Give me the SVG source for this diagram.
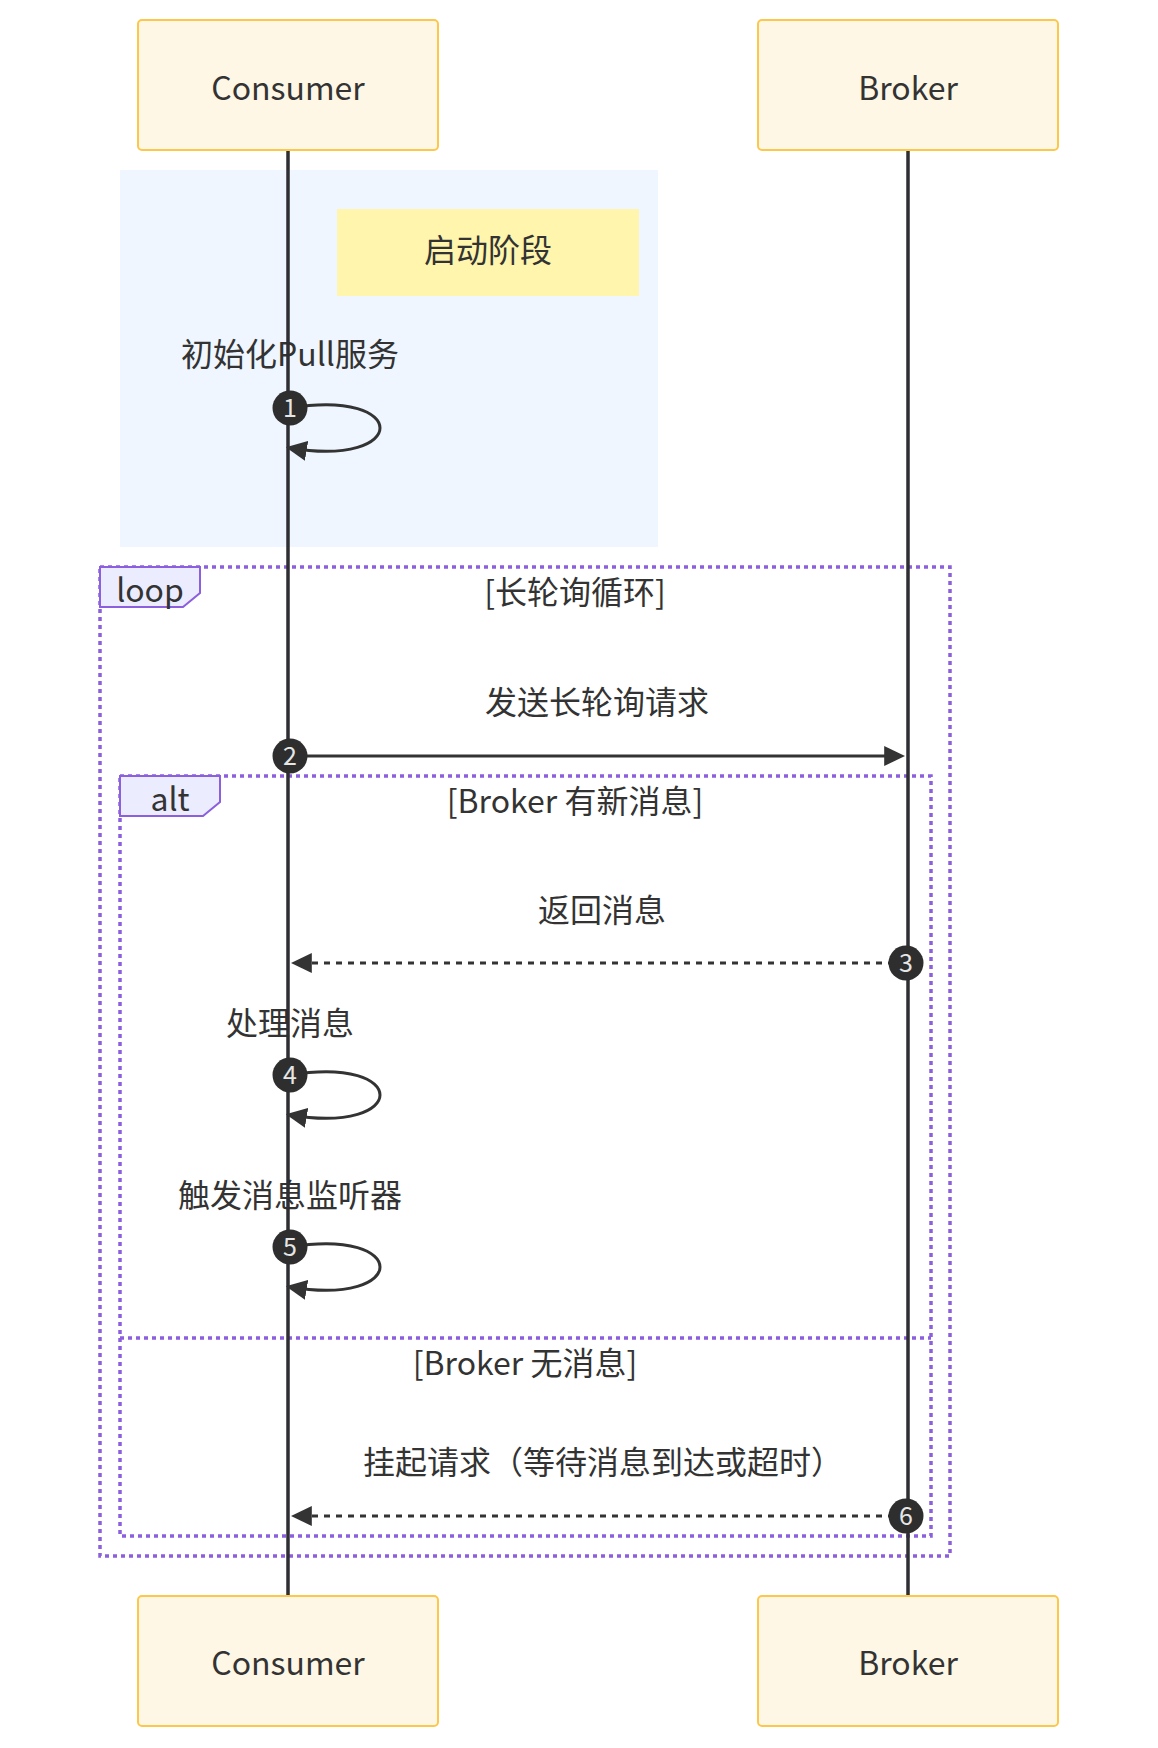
<svg xmlns="http://www.w3.org/2000/svg" width="1158" height="1748" viewBox="0 0 1158 1748">
<style>
text{font-family:"Noto Sans CJK SC","Noto Sans",sans-serif;fill:#333;font-size:32px;text-anchor:middle}
.actor{fill:#FFF7E6;stroke:#FBC84B;stroke-width:2}
.life{stroke:#2E2E33;stroke-width:3.5}
.frame{fill:none;stroke:#8B5FDD;stroke-width:3.5;stroke-dasharray:4 4}
.lbox{fill:#ECECFF;stroke:#8B5FDD;stroke-width:2}
.msg{fill:none;stroke:#333;stroke-width:3}
.dash{stroke-dasharray:6 6}
.num circle{fill:#2E2E2E}
.num text{fill:#E6E6E6;font-size:25px}
</style>
<defs>
<marker id="ah" viewBox="0 0 10 10" markerUnits="userSpaceOnUse" markerWidth="21" markerHeight="20" refX="8" refY="5" orient="auto" preserveAspectRatio="none">
<path d="M0,0 L10,5 L0,10 z" fill="#333" stroke="none"/>
</marker>
</defs>
<rect x="120" y="170" width="538" height="377" fill="#EFF6FF"/>
<g id="note-start">
<rect x="337" y="209" width="302" height="87" fill="#FFF5AD"/>
<text x="488" y="262">启动阶段</text>
</g>
<g id="loop-frame">
<rect class="frame" x="100" y="567" width="850" height="989"/>
<polygon class="lbox" points="100,567 200,567 200,593 183,607 100,607"/>
<text x="150" y="602">loop</text>
<text x="575" y="604">[长轮询循环]</text>
</g>
<g id="alt-frame">
<rect class="frame" x="120" y="776" width="811" height="760"/>
<line class="frame" x1="120" y1="1338" x2="931" y2="1338"/>
<polygon class="lbox" points="120,776 220,776 220,802 203,816 120,816"/>
<text x="170" y="811">alt</text>
<text x="575" y="813">[Broker 有新消息]</text>
<text x="525" y="1375">[Broker 无消息]</text>
</g>
<g id="labels">
<text x="290" y="366">初始化Pull服务</text>
<text x="597" y="714">发送长轮询请求</text>
<text x="602" y="922">返回消息</text>
<text x="290" y="1035">处理消息</text>
<text x="290" y="1207">触发消息监听器</text>
<text x="603" y="1474">挂起请求（等待消息到达或超时）</text>
</g>
<g id="lifelines">
<line class="life" x1="288" y1="150" x2="288" y2="1596"/>
<line class="life" x1="908" y1="150" x2="908" y2="1596"/>
</g>
<g id="connectors">
<path class="msg" d="M290,408 C410,388 410,468 290,448" marker-end="url(#ah)"/>
<line class="msg" x1="290" y1="756" x2="901" y2="756" marker-end="url(#ah)"/>
<line class="msg dash" x1="906" y1="963" x2="295" y2="963" marker-end="url(#ah)"/>
<path class="msg" d="M290,1075 C410,1055 410,1135 290,1115" marker-end="url(#ah)"/>
<path class="msg" d="M290,1247 C410,1227 410,1307 290,1287" marker-end="url(#ah)"/>
<line class="msg dash" x1="906" y1="1516" x2="295" y2="1516" marker-end="url(#ah)"/>
</g>
<g id="numbers" class="num">
<g id="n1"><circle cx="290" cy="408" r="17.5"/><text x="290" y="417">1</text></g>
<g id="n2"><circle cx="290" cy="756" r="17.5"/><text x="290" y="765">2</text></g>
<g id="n3"><circle cx="906" cy="963" r="17.5"/><text x="906" y="972">3</text></g>
<g id="n4"><circle cx="290" cy="1075" r="17.5"/><text x="290" y="1084">4</text></g>
<g id="n5"><circle cx="290" cy="1247" r="17.5"/><text x="290" y="1256">5</text></g>
<g id="n6"><circle cx="906" cy="1516" r="17.5"/><text x="906" y="1525">6</text></g>
</g>
<g id="consumer-top"><rect class="actor" x="138" y="20" width="300" height="130" rx="4"/><text x="288" y="100">Consumer</text></g>
<g id="broker-top"><rect class="actor" x="758" y="20" width="300" height="130" rx="4"/><text x="908" y="100">Broker</text></g>
<g id="consumer-bottom"><rect class="actor" x="138" y="1596" width="300" height="130" rx="4"/><text x="288" y="1675">Consumer</text></g>
<g id="broker-bottom"><rect class="actor" x="758" y="1596" width="300" height="130" rx="4"/><text x="908" y="1675">Broker</text></g>
</svg>
